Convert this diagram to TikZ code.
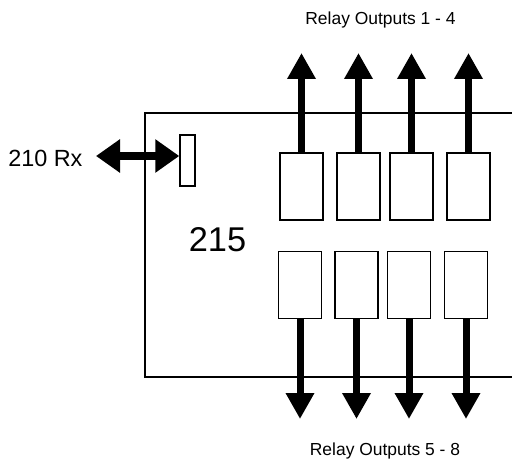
\documentclass[tikz,border=0pt]{standalone}
\usepackage{fontspec}
\setmainfont{Liberation Sans}
\usetikzlibrary{arrows.meta}

\begin{document}
\begin{tikzpicture}[x=1bp,y=-1bp,
    relay/.style={draw,line width=1.5bp,minimum width=43bp,minimum height=67bp,inner sep=0pt},
    outarrow/.style={line width=7bp,-{Triangle[width=27bp,length=26bp]}}]
    \useasboundingbox (0,0) rectangle (512,460);
    % board outline, runs off the right edge
    \draw [line width=1.5bp] (512,113) -| (145,377) -- (512,377);
    \node at (217.5,240) {\fontsize{34.5}{40}\selectfont 215};
    % receiver port
    \node (port) [draw,line width=1.5bp,minimum width=15bp,minimum height=51bp,inner sep=0pt] at (187.5,160.5) {};
    \node (rx) [anchor=east] at (86,158) {\fontsize{23.5}{28}\selectfont 210 Rx};
    \coordinate (rxend) at (96,156);
    \draw [line width=8bp,{Triangle[width=32bp,length=24bp]}-{Triangle[width=32bp,length=24bp]}] (rxend) -- (port.west |- rxend);
    % relays 1 - 4
    \node (r1) [relay] at (301.5,186.5) {};
    \node (r2) [relay] at (358.5,186.5) {};
    \node (r3) [relay] at (411.5,186.5) {};
    \node (r4) [relay] at (468.5,186.5) {};
    \coordinate (t1) at (301.5,53);
    \coordinate (t2) at (358.5,53);
    \coordinate (t3) at (411.5,53);
    \coordinate (t4) at (468.5,53);
    \draw [outarrow] (r1.north) -- (t1);
    \draw [outarrow] (r2.north) -- (t2);
    \draw [outarrow] (r3.north) -- (t3);
    \draw [outarrow] (r4.north) -- (t4);
    \node (top) at (380.5,20) {\fontsize{17.5}{21}\selectfont Relay Outputs 1 - 4};
    % relays 5 - 8
    \node (r5) [relay] at (300,285) {};
    \node (r6) [relay] at (356.5,285) {};
    \node (r7) [relay] at (409,285) {};
    \node (r8) [relay] at (466,285) {};
    \coordinate (b5) at (300,419);
    \coordinate (b6) at (356.5,419);
    \coordinate (b7) at (409,419);
    \coordinate (b8) at (466,419);
    \draw [outarrow] (r5.south) -- (b5);
    \draw [outarrow] (r6.south) -- (b6);
    \draw [outarrow] (r7.south) -- (b7);
    \draw [outarrow] (r8.south) -- (b8);
    \node (bot) at (385,451) {\fontsize{17.5}{21}\selectfont Relay Outputs 5 - 8};
\end{tikzpicture}
\end{document}
